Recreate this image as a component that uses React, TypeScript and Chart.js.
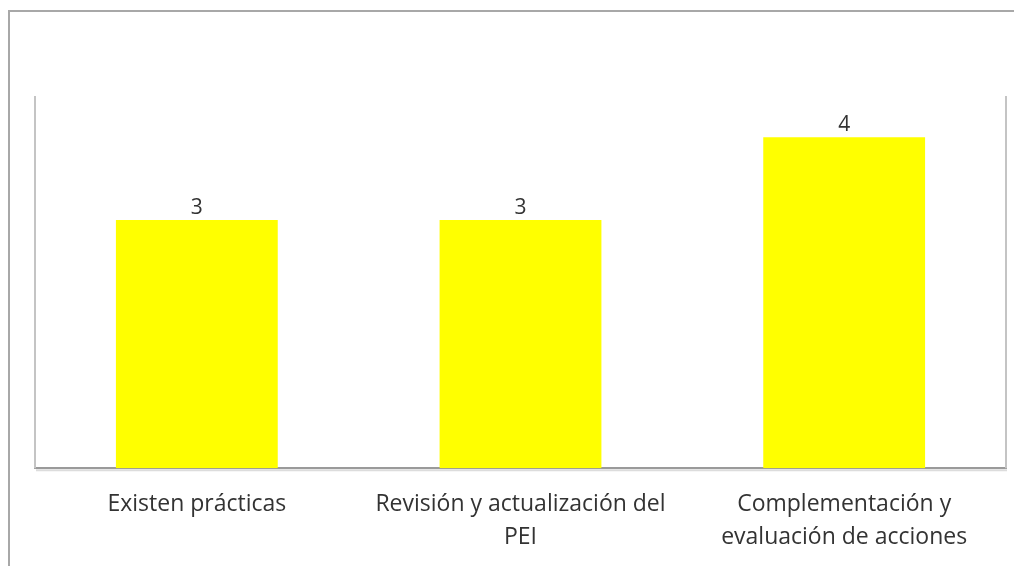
import React, { useEffect, useRef } from "react";
import { Chart, registerables } from "chart.js";

Chart.register(...registerables);

const categories: (string | string[])[] = [
  "Existen prácticas",
  ["Revisión y actualización del", "PEI"],
  ["Complementación y", "evaluación de acciones"],
];
const values: number[] = [3, 3, 4];
const yMax = 4.5;

const FONT = "'Open Sans', sans-serif";

const framePlugin = {
  id: "frame",
  beforeDatasetsDraw(chart: any) {
    const { ctx, chartArea } = chart;
    ctx.save();
    ctx.strokeStyle = "#c4c4c4";
    ctx.lineWidth = 2;
    ctx.beginPath();
    ctx.moveTo(chartArea.left, chartArea.top);
    ctx.lineTo(chartArea.left, chartArea.bottom);
    ctx.moveTo(chartArea.right, chartArea.top);
    ctx.lineTo(chartArea.right, chartArea.bottom);
    ctx.stroke();
    ctx.restore();
  },
  afterDatasetsDraw(chart: any) {
    const { ctx, chartArea } = chart;
    ctx.save();
    ctx.strokeStyle = "#dcdcdc";
    ctx.lineWidth = 2;
    ctx.beginPath();
    ctx.moveTo(chartArea.left + 1, chartArea.bottom + 2);
    ctx.lineTo(chartArea.right + 1, chartArea.bottom + 2);
    ctx.stroke();
    const meta = chart.getDatasetMeta(0);
    ctx.fillStyle = "#333333";
    ctx.font = `21px ${FONT}`;
    ctx.textAlign = "center";
    ctx.textBaseline = "middle";
    meta.data.forEach((bar: any, i: number) => {
      const v = chart.data.datasets[0].data[i];
      ctx.fillText(String(v), bar.x, bar.y - 12);
    });
    ctx.restore();
  },
};

export default function App() {
  const ref = useRef<HTMLCanvasElement>(null);
  useEffect(() => {
    if (!ref.current) return;
    const chart = new Chart(ref.current, {
      type: "bar",
      data: {
        labels: categories,
        datasets: [
          {
            data: values,
            backgroundColor: "#ffff00",
            borderWidth: 0,
            categoryPercentage: 1,
            barPercentage: 0.5,
          },
        ],
      },
      options: {
        responsive: false,
        animation: false,
        devicePixelRatio: 1,
        layout: { padding: { left: 35, right: 8, top: 96, bottom: 0 } },
        plugins: {
          legend: { display: false },
          tooltip: { enabled: false },
        },
        scales: {
          x: {
            grid: { display: false },
            border: { display: true, color: "#9a9a9a", width: 2 },
            ticks: {
              color: "#333333",
              font: { family: FONT, size: 23, lineHeight: 1.43 },
              padding: 12,
              maxRotation: 0,
              autoSkip: false,
            },
          },
          y: {
            display: false,
            min: 0,
            max: yMax,
          },
        },
      },
      plugins: [framePlugin],
    });
    return () => chart.destroy();
  }, []);

  return (
    <div style={{ position: "absolute", left: 0, top: 0, width: 1014, height: 566, background: "#fff" }}>
      <div
        style={{
          position: "absolute",
          left: 8,
          top: 10,
          right: 0,
          bottom: 0,
          borderLeft: "2px solid #a8a8a8",
          borderTop: "2px solid #a8a8a8",
        }}
      />
      <canvas ref={ref} width={1014} height={566} style={{ position: "absolute", left: 0, top: 0 }} />
    </div>
  );
}
